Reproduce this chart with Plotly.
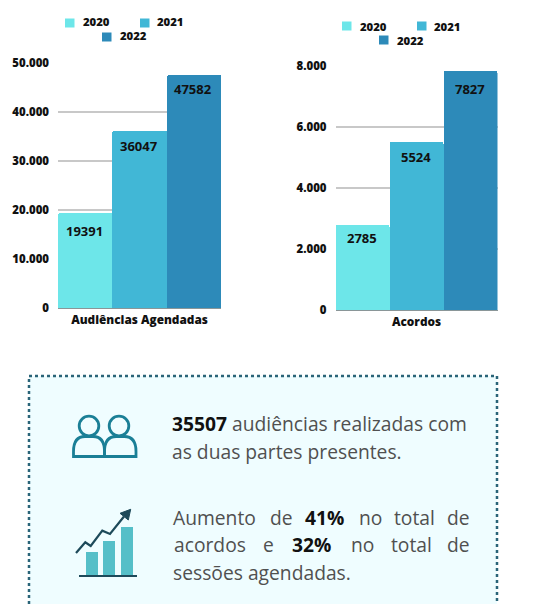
import plotly.graph_objects as go

W, H = 544, 604
years = ["2020", "2021", "2022"]
colors = ["#6de6e9", "#41b7d6", "#2d8ab9"]
audiencias = [19391, 36047, 47582]
acordos = [2785, 5524, 7827]
cat_a = ["Audiências Agendadas"]
cat_b = ["Acordos"]
ticks_a = [0, 10000, 20000, 30000, 40000, 50000]
ticks_b = [0, 2000, 4000, 6000, 8000]
drop_a = [18, 15, 14]
drop_b = [13, 15, 18]

FONT = "Open Sans"
INK = "#111111"
BODY = "#505050"


def px(x):
    return x / W


def py(y):
    return 1 - y / H


fig = go.Figure()
for i, year in enumerate(years):
    fig.add_trace(go.Bar(x=cat_a, y=[audiencias[i]], name=year, marker=dict(color=colors[i], line=dict(width=0)),
                         xaxis="x", yaxis="y", showlegend=False))
    fig.add_trace(go.Bar(x=cat_b, y=[acordos[i]], name=year, marker=dict(color=colors[i], line=dict(width=0)),
                         xaxis="x2", yaxis="y2", showlegend=False))

axis_font = dict(family=FONT, size=11.4, color=INK, weight=800)
cat_font = dict(family=FONT, size=11.8, color=INK, weight=800)
shapes = []
ann = []

# value labels, placed in data coordinates of the grouped bars
for i in range(3):
    for ref, vals, drops in (("", audiencias, drop_a), ("2", acordos, drop_b)):
        ann.append(dict(x=(i - 1) / 3, y=vals[i], xref="x" + ref, yref="y" + ref, text=str(vals[i]),
                        showarrow=False, xanchor="center", yanchor="middle", yshift=-drops[i], xshift=-1,
                        font=dict(family=FONT, size=13, color=INK, weight=700)))


def text(x, y, s, size=11, color=INK, anchor="left", weight=None):
    f = dict(family=FONT, size=size, color=color)
    if weight:
        f["weight"] = weight
    ann.append(dict(x=px(x), y=py(y), xref="paper", yref="paper", text=s, showarrow=False,
                    xanchor=anchor, yanchor="middle", font=f, borderpad=0, borderwidth=0))


def rect(x0, y0, x1, y1, fill, line=None, lw=0, dash=None, layer="above"):
    shapes.append(dict(type="rect", xref="paper", yref="paper", x0=px(x0), x1=px(x1), y0=py(y0), y1=py(y1),
                       fillcolor=fill, layer=layer,
                       line=dict(color=line or fill, width=lw, dash=dash or "solid")))


# legends
for (sx, tx, y), yr, c in zip([(65, 83, 23), (140, 157, 23), (102, 120, 37)], years, colors):
    rect(sx, y - 4.5, sx + 9.5, y + 4.5, c)
    text(tx, y - 1, yr, 11.3, weight=800)
for (sx, tx, y), yr, c in zip([(342, 360, 26), (417, 434, 26), (379, 397, 40)], years, colors):
    rect(sx, y - 4.5, sx + 9.5, y + 4.5, c)
    text(tx, y, yr, 11.3, weight=800)

# panel
rect(29, 376, 497, 640, "#effdff", "#2a6478", 2.5, "dot", layer="below")

TEAL = "#1a7f96"
DARK = "#1d4a5a"


def path(d, color, width=3, fill="rgba(0,0,0,0)"):
    shapes.append(dict(type="path", xref="paper", yref="paper", path=d, fillcolor=fill,
                       line=dict(color=color, width=width), layer="above"))


def P(*pts):
    return "M " + " L ".join(f"{px(x):.5f},{py(y):.5f}" for x, y in pts)


def circle(cx, cy, r, color, width=3):
    shapes.append(dict(type="circle", xref="paper", yref="paper", x0=px(cx - r), x1=px(cx + r),
                       y0=py(cy + r), y1=py(cy - r), line=dict(color=color, width=width)))


def dome(x0, x1, ytop, ybot):
    c = (x0 + x1) / 2
    return (f"M {px(x0):.5f},{py(ybot):.5f} L {px(x1):.5f},{py(ybot):.5f} "
            f"L {px(x1):.5f},{py(ybot - 5):.5f} "
            f"C {px(x1):.5f},{py(ytop + 3):.5f} {px(x1 - 6):.5f},{py(ytop):.5f} {px(c + 4):.5f},{py(ytop):.5f} "
            f"L {px(c - 4):.5f},{py(ytop):.5f} "
            f"C {px(x0 + 6):.5f},{py(ytop):.5f} {px(x0):.5f},{py(ytop + 3):.5f} {px(x0):.5f},{py(ybot - 5):.5f} Z")


circle(89, 426, 9.8, TEAL, 2.8)
circle(119, 426, 9.8, TEAL, 2.8)
path(dome(73.5, 104.5, 436.5, 456.5), TEAL, 2.8)
path(dome(104.5, 136, 436.5, 456.5), TEAL, 2.8)

# growth icon
for x0, x1, y0 in [(86, 98, 552), (103, 115, 541), (121, 133, 527)]:
    rect(x0, y0, x1, 575, "#55bfc8")
path(P((79, 576), (137, 576)), DARK, 2.2)
path(P((76, 553), (85.3, 542.3), (90.7, 546), (102.3, 530.7), (110, 534), (124, 516.5)), DARK, 2.2)
path(P((130.7, 509.3), (120, 513.3), (128.3, 520)) + " Z", DARK, 1, DARK)

# body text, one word at a time where the reference is justified
S = 19.25
text(172, 423, "<b style='color:#111'>35507</b> audiências realizadas com", S, BODY)
text(172, 451, "as duas partes presentes.", S, BODY)
for x, w in [(173, "Aumento"), (270, "de"), (305, "<b>41%</b>"), (359, "no"), (394, "total"), (447, "de")]:
    text(x, 517, w, S, INK if "<b>" in w else BODY)
for x, w in [(174, "acordos"), (263, "e"), (292, "<b>32%</b>"), (351, "no"), (391, "total"), (447, "de")]:
    text(x, 544, w, S, INK if "<b>" in w else BODY)
text(173, 572, "sessões agendadas.", S, BODY)

fig.update_layout(
    width=W, height=H, margin=dict(l=0, r=0, t=0, b=0), autosize=False,
    paper_bgcolor="white", plot_bgcolor="rgba(0,0,0,0)",
    barmode="group", bargap=0, bargroupgap=0, barcornerradius=2,
    separators=",.", shapes=shapes, annotations=ann, showlegend=False,
    xaxis=dict(domain=[px(58), px(221)], anchor="y", showgrid=False, ticks="", showline=True, automargin=False,
               linecolor="#8a9698", linewidth=1, tickfont=cat_font, ticklabelstandoff=1, fixedrange=True),
    yaxis=dict(domain=[py(308), py(63)], anchor="x", range=[0, 50000], tickvals=ticks_a, tickformat=",d",
               showgrid=True, gridcolor="#c8c8c8", gridwidth=2, zeroline=False, ticks="", tickfont=axis_font,
               ticklabelstandoff=8, automargin=False, fixedrange=True),
    xaxis2=dict(domain=[px(335.5), px(497.5)], anchor="y2", showgrid=False, ticks="", showline=True, automargin=False,
                linecolor="#8a9698", linewidth=1, tickfont=cat_font, ticklabelstandoff=1, fixedrange=True),
    yaxis2=dict(domain=[py(310), py(66)], anchor="x2", range=[0, 8000], tickvals=ticks_b, tickformat=",d",
                showgrid=True, gridcolor="#c8c8c8", gridwidth=2, zeroline=False, ticks="", tickfont=axis_font,
                ticklabelstandoff=8, automargin=False, fixedrange=True),
)

fig.write_html("out.html", config=dict(displayModeBar=False),
               post_script="document.body.style.margin='0';document.body.style.overflow='hidden';")
